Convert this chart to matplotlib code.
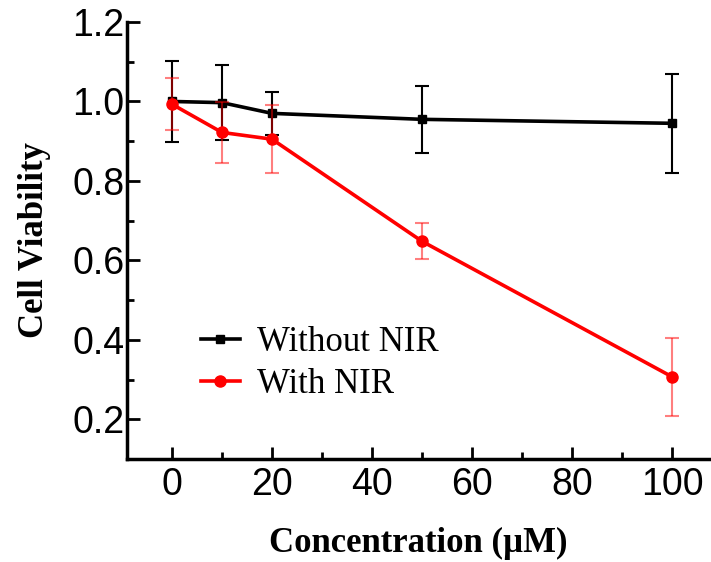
import matplotlib.pyplot as plt
from matplotlib.ticker import MultipleLocator
from matplotlib.lines import Line2D

# --- Data ---
concentration = [0, 10, 20, 50, 100]
without_nir = [1.000, 0.997, 0.970, 0.955, 0.945]
without_nir_err = [0.103, 0.095, 0.055, 0.085, 0.125]
with_nir = [0.993, 0.922, 0.905, 0.648, 0.307]
with_nir_err = [0.065, 0.076, 0.086, 0.045, 0.098]

fig = plt.figure(figsize=(7.11, 5.62), dpi=100)
ax = fig.add_axes([127 / 711, 1 - 459 / 562, (709 - 127) / 711, (459 - 22) / 562])

# Without NIR (black squares)
ax.errorbar(concentration, without_nir, yerr=without_nir_err, color="black",
            marker="s", markersize=6, linewidth=2.6, elinewidth=1.5,
            capsize=5, capthick=1.5, zorder=2)

# With NIR (red circles, lighter error bars)
ax.errorbar(concentration, with_nir, yerr=with_nir_err, fmt="none",
            ecolor=(1.0, 0.0, 0.0, 0.5), elinewidth=1.5, capsize=5,
            capthick=1.5, zorder=3)
ax.plot(concentration, with_nir, color="red", marker="o", markersize=8,
        linewidth=2.6, zorder=4)

ax.set_xlim(-9, 107.4)
ax.set_ylim(0.1, 1.2)
ax.xaxis.set_major_locator(MultipleLocator(20))
ax.xaxis.set_minor_locator(MultipleLocator(10))
ax.yaxis.set_minor_locator(MultipleLocator(0.1))
ax.set_yticks([0.2, 0.4, 0.6, 0.8, 1.0, 1.2])
ax.set_yticklabels(["0.2", "0.4", "0.6", "0.8", "1.0", "1.2"])

for side in ["top", "right"]:
    ax.spines[side].set_visible(False)
for side in ["left", "bottom"]:
    ax.spines[side].set_linewidth(2.5)

ax.tick_params(which="major", direction="in", length=9, width=2, labelsize=27)
ax.tick_params(axis="y", which="major", pad=2)
ax.tick_params(axis="x", which="major", pad=6)
ax.tick_params(which="minor", direction="in", length=5, width=2)
for lbl in ax.get_xticklabels() + ax.get_yticklabels():
    lbl.set_fontfamily("Liberation Sans")

ax.set_xlabel("Concentration (\u00b5M)", fontfamily="Liberation Serif",
              fontweight="bold", fontsize=25, labelpad=17)
ax.set_ylabel("Cell Viability", fontfamily="Liberation Serif",
              fontweight="bold", fontsize=25, labelpad=15)

handles = [
    Line2D([], [], color="black", marker="s", markersize=6, linewidth=2.6),
    Line2D([], [], color="red", marker="o", markersize=8, linewidth=2.6),
]
ax.legend(handles, ["Without NIR", "With NIR"], loc="upper left",
          bbox_to_anchor=(0.074, 0.375), frameon=False,
          prop={"family": "Liberation Serif", "size": 25},
          handlelength=1.1, handletextpad=0.5, labelspacing=0.25)

fig.savefig("out.png", dpi=100)
